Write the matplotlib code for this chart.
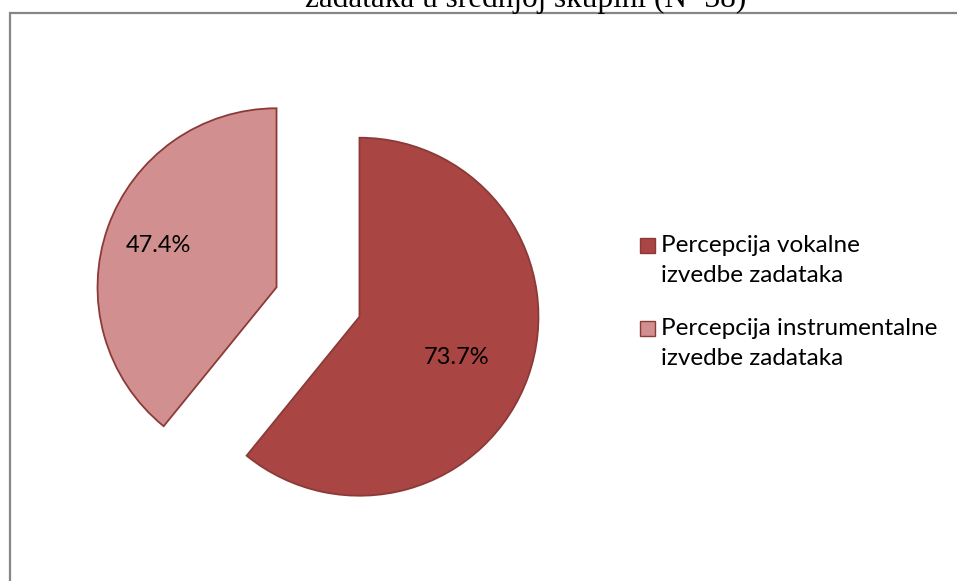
import numpy as np
import matplotlib.pyplot as plt
from matplotlib.patches import Rectangle

# data
categories = ["Percepcija vokalne\nizvedbe zadataka",
              "Percepcija instrumentalne\nizvedbe zadataka"]
values = [73.7, 47.4]
colors = ["#A94543", "#D1908F"]
title = "Percepcija vokalne i instrumentalne izvedbe\nzadataka u srednjoj skupini (N=38)"

W, H = 957, 581
fig = plt.figure(figsize=(W / 100, H / 100), dpi=100)
ax = fig.add_axes([0, 0, 1, 1])

# chart area frame (runs off the right and bottom)
ax.add_patch(Rectangle((9.5, -20), W + 40, H - 13 + 20, fill=False,
                       edgecolor="#868686", lw=1.6, zorder=0))

center = (318, H - 302)
radius = 179
wedges, _ = ax.pie(values, colors=colors, startangle=90, counterclock=False,
                   center=center, radius=radius, explode=[44, 44],
                   wedgeprops=dict(edgecolor="#8C3A38", linewidth=1.3),
                   frame=True)
ax.set_xlim(0, W)
ax.set_ylim(0, H)
ax.set_aspect("equal")
ax.axis("off")

# value labels (raw values, not shares)
label_dist = [0.59, 0.7]
label_shift = [-3, 0]
for w, v, d, s in zip(wedges, values, label_dist, label_shift):
    ang = np.deg2rad((w.theta1 + w.theta2) / 2 + s)
    cx, cy = w.center
    ax.text(cx + d * radius * np.cos(ang), cy + d * radius * np.sin(ang),
            f"{v}%", ha="center", va="center", fontsize=17, family="Lato")

# legend drawn by hand so the box sits on the first line
ly = [H - 245, H - 328]
for c, lab, y in zip(colors, categories, ly):
    ax.add_patch(Rectangle((640, y - 7.5), 15, 15, facecolor=c,
                           edgecolor="#8C3A38", lw=1.0))
    ax.text(661, y + 10, lab, ha="left", va="top", fontsize=17.5,
            family="Lato", linespacing=1.55)

ax.text(526, H - 7, title, ha="center", va="baseline", fontsize=22.5,
        family="Liberation Serif", linespacing=1.1)

fig.savefig("out.png", dpi=100)
